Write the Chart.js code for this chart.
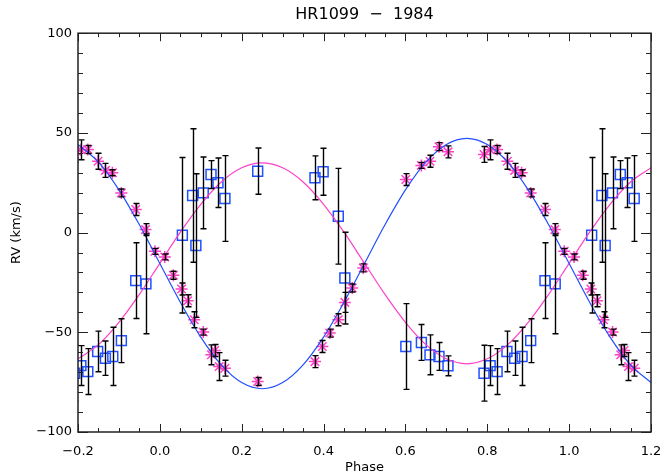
<!DOCTYPE html>
<html>
<head>
<meta charset="utf-8">
<script src="https://cdn.jsdelivr.net/npm/chart.js@4.4.1/dist/chart.umd.min.js"></script>
<style>
  html, body { margin: 0; padding: 0; background: #fff; }
</style>
</head>
<body>
<canvas id="rv" width="666" height="475"></canvas>
<script>
// Primary star (asterisks): phase, RV (km/s), error
const primaryPhase = [0.012, 0.033, 0.053, 0.068, 0.084, 0.106, 0.126, 0.134, 0.145, 0.159,
  0.239, 0.379, 0.397, 0.415, 0.436, 0.452, 0.470, 0.497, 0.601, 0.639, 0.660, 0.682, 0.704,
  0.792, 0.807, 0.824, 0.849, 0.867, 0.884, 0.906, 0.941, 0.965, 0.988];
const primaryRV = [-12.2, -21.4, -28.3, -34.2, -43.7, -49.9, -61.3, -59.1, -67.2, -68.0,
  -74.7, -64.7, -57.1, -50.4, -43.7, -35.0, -27.8, -17.7, 26.6, 33.7, 35.8, 43.1, 40.5,
  39.2, 41.5, 41.7, 35.8, 31.2, 30.0, 19.9, 11.6, 1.5, -9.4];
const primaryErr = [1.5, 2, 3, 3, 4, 1.5, 5, 3, 7, 4,
  2, 3, 3, 2, 3, 5, 2, 2, 3, 1.5, 3, 2, 3,
  4, 5, 2, 4, 3.5, 1.5, 2, 3, 3, 1.5];

// Secondary star (squares)
const secondaryPhase = [0.055, 0.080, 0.088, 0.106, 0.125, 0.142, 0.159, 0.239, 0.379, 0.399,
  0.436, 0.452, 0.601, 0.639, 0.660, 0.682, 0.704, 0.792, 0.807, 0.824, 0.848, 0.867, 0.885,
  0.906, 0.941, 0.966];
const secondaryRV = [-1.3, 18.6, -6.5, 19.9, 29.1, 25.0, 17.1, 30.8, 27.5, 30.5,
  8.2, -22.8, -57.1, -55.1, -61.3, -62.1, -66.8, -70.5, -66.7, -69.7, -59.6, -63.0, -62.1,
  -54.2, -24.1, -25.7];
const secondaryErr = [39, 33.5, 36, 18, 7, 12.4, 21.5, 11.6, 11, 11.8,
  24, 23, 21.5, 9, 10, 7, 5, 14, 10, 11.5, 10.2, 8.6, 14.6,
  11, 19, 25];

// Orbit fits
const fitPhase = [-0.20, -0.15, -0.10, -0.05, 0.00, 0.05, 0.10, 0.15, 0.20, 0.25, 0.30, 0.35,
  0.40, 0.45, 0.50, 0.55, 0.60, 0.65, 0.70, 0.75, 0.80, 0.85, 0.90, 0.95, 1.00, 1.05, 1.10,
  1.15, 1.20];
const primaryFit = [44.2, 35.3, 21.4, 3.9, -15.5, -34.9, -52.4, -66.3, -75.2, -78.3, -75.2, -66.3,
  -52.4, -34.9, -15.5, 3.9, 21.4, 35.3, 44.2, 47.3, 44.2, 35.3, 21.4, 3.9, -15.5, -34.9, -52.4,
  -66.3, -75.2];
const secondaryFit = [-63.3, -56.2, -45.0, -31.0, -15.4, 0.2, 14.2, 25.4, 32.5, 35.0, 32.5, 25.4,
  14.2, 0.2, -15.4, -31.0, -45.0, -56.2, -63.3, -65.8, -63.3, -56.2, -45.0, -31.0, -15.4, 0.2, 14.2,
  25.4, 32.5];

const xTicks = [-0.2, 0.0, 0.2, 0.4, 0.6, 0.8, 1.0, 1.2];
const yTicks = [-100, -50, 0, 50, 100];

const BLUE = '#2050ff';
const PINK = '#ff40c8';
const FONT = 'DejaVu Sans';

// plot each observation at its phase and one cycle either side
function fold(phase, rv, err) {
  const pts = [];
  phase.forEach((p, i) => {
    [p - 1, p, p + 1].forEach(x => {
      if (x >= -0.215 && x <= 1.215) pts.push({ x: x, y: rv[i], e: err[i] });
    });
  });
  return pts;
}

const minus = s => String(s).replace('-', '\u2212');

// black error bars with caps
const errorBars = {
  id: 'errorBars',
  afterDatasetsDraw(chart) {
    const { ctx, chartArea: a, scales: { x, y } } = chart;
    ctx.save();
    ctx.beginPath();
    ctx.rect(a.left, a.top, a.right - a.left, a.bottom - a.top);
    ctx.clip();
    ctx.strokeStyle = '#000';
    ctx.lineWidth = 1.4;
    chart.data.datasets.forEach(ds => {
      if (!ds.errorBars) return;
      ds.data.forEach(d => {
        const px = Math.round(x.getPixelForValue(d.x)) + 0.5;
        const y1 = y.getPixelForValue(d.y - d.e);
        const y2 = y.getPixelForValue(d.y + d.e);
        ctx.beginPath();
        ctx.moveTo(px, y1); ctx.lineTo(px, y2);
        ctx.moveTo(px - 3, y1); ctx.lineTo(px + 3, y1);
        ctx.moveTo(px - 3, y2); ctx.lineTo(px + 3, y2);
        ctx.stroke();
      });
    });
    ctx.restore();
  }
};

// box frame with inward ticks on all four sides
const frame = {
  id: 'frame',
  afterDraw(chart) {
    const { ctx, chartArea: a, scales: { x, y } } = chart;
    ctx.save();
    ctx.strokeStyle = '#222';
    ctx.lineWidth = 1;
    ctx.beginPath();
    for (let i = 0; i <= 28; i++) {
      const v = -0.2 + i * 0.05;
      const px = Math.round(x.getPixelForValue(v)) + 0.5;
      const len = i % 4 === 0 ? 8 : 4;
      ctx.moveTo(px, a.bottom); ctx.lineTo(px, a.bottom - len);
      ctx.moveTo(px, a.top); ctx.lineTo(px, a.top + len);
    }
    for (let i = 0; i <= 20; i++) {
      const v = -100 + i * 10;
      const py = Math.round(y.getPixelForValue(v)) + 0.5;
      const len = i % 5 === 0 ? 10 : 5;
      ctx.moveTo(a.left, py); ctx.lineTo(a.left + len, py);
      ctx.moveTo(a.right, py); ctx.lineTo(a.right - len, py);
    }
    ctx.stroke();
    ctx.lineWidth = 1.5;
    ctx.strokeRect(a.left, a.top, a.right - a.left, a.bottom - a.top);
    ctx.restore();
  }
};

new Chart(document.getElementById('rv'), {
  type: 'scatter',
  data: {
    datasets: [
      {
        type: 'line',
        data: fitPhase.map((p, i) => ({ x: p, y: primaryFit[i] })),
        borderColor: BLUE,
        borderWidth: 1.2,
        pointRadius: 0,
        cubicInterpolationMode: 'monotone',
        fill: false,
        clip: 0
      },
      {
        type: 'line',
        data: fitPhase.map((p, i) => ({ x: p, y: secondaryFit[i] })),
        borderColor: PINK,
        borderWidth: 1.2,
        pointRadius: 0,
        cubicInterpolationMode: 'monotone',
        fill: false,
        clip: 0
      },
      {
        data: fold(primaryPhase, primaryRV, primaryErr),
        errorBars: true,
        pointStyle: 'star',
        pointRadius: 6,
        borderColor: PINK,
        backgroundColor: PINK,
        borderWidth: 1.5,
        clip: 0
      },
      {
        data: fold(secondaryPhase, secondaryRV, secondaryErr),
        errorBars: true,
        pointStyle: 'rect',
        pointRadius: 7,
        borderColor: BLUE,
        backgroundColor: 'rgba(0,0,0,0)',
        borderWidth: 1.5,
        clip: 0
      }
    ]
  },
  options: {
    responsive: false,
    devicePixelRatio: 1,
    animation: false,
    layout: { padding: { left: 0, right: 15, top: 0, bottom: 0 } },
    plugins: {
      legend: { display: false },
      tooltip: { enabled: false },
      title: {
        display: true,
        text: 'HR1099  \u2212  1984',
        fullSize: false,
        color: '#000',
        font: { family: FONT, size: 16, weight: 'normal' },
        padding: { top: 5, bottom: 9 }
      }
    },
    scales: {
      x: {
        type: 'linear',
        min: -0.2,
        max: 1.2,
        afterBuildTicks: s => { s.ticks = xTicks.map(v => ({ value: v })); },
        afterFit: s => { s.height = 43; s.paddingLeft = 0; s.paddingRight = 0; },
        grid: { display: false, drawTicks: false },
        border: { display: false },
        ticks: {
          color: '#000',
          padding: 12,
          font: { family: FONT, size: 13 },
          callback: v => minus(Number(v).toFixed(1))
        },
        title: {
          display: true,
          text: 'Phase',
          color: '#000',
          font: { family: FONT, size: 13 },
          padding: { top: 0, bottom: 0 }
        }
      },
      y: {
        type: 'linear',
        min: -100,
        max: 100,
        afterBuildTicks: s => { s.ticks = yTicks.map(v => ({ value: v })); },
        afterFit: s => { s.width = 78; },
        grid: { display: false, drawTicks: false },
        border: { display: false },
        ticks: {
          color: '#000',
          padding: 6,
          font: { family: FONT, size: 13 },
          callback: v => minus(v)
        },
        title: {
          display: true,
          text: 'RV (km/s)',
          color: '#000',
          font: { family: FONT, size: 13 },
          padding: { top: 9, bottom: 0 }
        }
      }
    }
  },
  plugins: [errorBars, frame]
});
</script>
</body>
</html>
